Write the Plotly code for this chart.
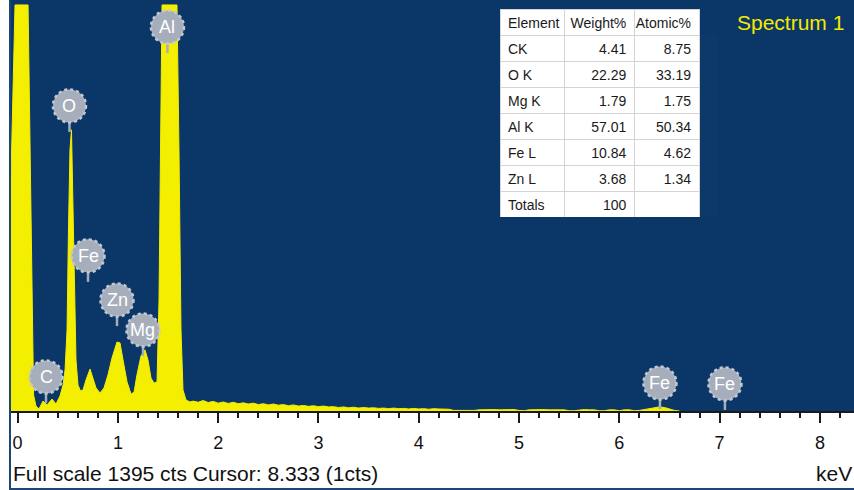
import plotly.graph_objects as go

# ---------------- data ----------------
# spectrum (energy keV, counts); peaks above full scale are shown clipped at 1395
energy_kev = [
    -0.08, -0.026, 0.104, 0.124, 0.144, 0.159, 0.183,
    0.213, 0.253, 0.293, 0.343, 0.383,
    0.423, 0.453, 0.473, 0.493, 0.507, 0.522, 0.537, 0.552, 0.567, 0.582, 0.602, 0.627,
    0.652, 0.682, 0.722, 0.752, 0.782, 0.822,
    0.861, 0.901, 0.941, 0.991, 1.021, 1.051, 1.091, 1.131, 1.161,
    1.190, 1.230, 1.270, 1.300, 1.330, 1.360,
    1.390, 1.410, 1.425, 1.440, 1.514, 1.589, 1.609, 1.629, 1.649, 1.679, 1.719,
    1.75, 1.80, 1.85, 1.90, 1.95, 2.00, 2.05, 2.10, 2.15, 2.20, 2.25, 2.30, 2.35, 2.40,
    2.45, 2.50, 2.55, 2.60, 2.65, 2.70, 2.75, 2.80, 2.85, 2.90, 2.95, 3.00, 3.05, 3.10,
    3.15, 3.20, 3.25, 3.30, 3.35, 3.40, 3.45, 3.50, 3.55, 3.60, 3.65, 3.70, 3.75, 3.80,
    3.85, 3.90, 3.95, 4.00, 4.05, 4.10, 4.15, 4.20, 4.25, 4.30, 4.35, 4.40, 4.45, 4.50,
    4.55, 4.60, 4.65, 4.70, 4.75, 4.80, 4.85, 4.90, 4.95, 5.00, 5.05, 5.10, 5.15, 5.20,
    5.25, 5.30, 5.35, 5.40, 5.45, 5.50, 5.55, 5.60, 5.65, 5.70, 5.75, 5.80, 5.85, 5.90,
    5.95, 6.00, 6.05, 6.10, 6.15, 6.20, 6.25, 6.30, 6.35, 6.40, 6.45, 6.50, 6.55, 6.60,
]
counts = [
    600, 1395, 1395, 897, 244, 55, 17,
    7, 34, 21, 41, 24,
    52, 89, 141, 278, 622, 897, 966, 725, 381, 175, 89, 69,
    72, 107, 144, 113, 79, 62,
    79, 124, 182, 237, 234, 175, 100, 58, 65,
    124, 189, 210, 175, 113, 96,
    100, 381, 897, 1395, 1395, 1395, 897, 278, 72, 38, 31,
    34, 30, 36, 29, 33, 27, 31, 26, 30, 25, 28, 24, 27, 22,
    25, 21, 24, 20, 22, 18, 21, 17, 19, 16, 18, 15, 17, 14,
    15, 12, 14, 11, 13, 10, 12, 10, 11, 9, 10, 8, 10, 8,
    9, 7, 9, 7, 8, 6, 8, 7, 7, 6, 2, 2, 1, 2,
    2, 4, 5, 4, 5, 4, 5, 4, 5, 2, 1, 4, 5, 4,
    5, 4, 5, 4, 4, 1, 1, 4, 5, 4, 4, 1, 1, 4,
    4, 1, 4, 4, 1, 2, 5, 9, 13, 14, 12, 6, 2, 0,
]

# element markers (label, energy keV, badge height in counts)
marker_labels = ["C", "O", "Fe", "Zn", "Mg", "Al", "Fe", "Fe"]
marker_kev = [0.283, 0.517, 0.702, 0.991, 1.250, 1.494, 6.405, 7.053]
marker_cts = [117, 1048, 533, 381, 278, 1319, 96, 93]

# quantification table
tbl_element = ["CK", "O K", "Mg K", "Al K", "Fe L", "Zn L", "Totals"]
tbl_weight = ["4.41", "22.29", "1.79", "57.01", "10.84", "3.68", "100"]
tbl_atomic = ["8.75", "33.19", "1.75", "50.34", "4.62", "1.34", ""]
tbl_header = ["Element", "Weight%", "Atomic%"]

x_ticks = [0, 1, 2, 3, 4, 5, 6, 7, 8]

# ---------------- styling ----------------
FONT = "Liberation Sans, Arial, Helvetica, sans-serif"
NAVY = "#0b3768"
YELLOW = "#f4ee00"
BADGE = "#a6aebb"
BADGE_EDGE = "#c3c9d3"

W, H = 854, 490
ML, MR, MT, MB = 10, 0, 0, 79
PW, PH = W - ML - MR, H - MT - MB


def px_x(p):
    return (p - ML) / PW


def px_y(p):
    return (H - MB - p) / PH


fig = go.Figure()

fig.add_trace(go.Scatter(
    x=energy_kev, y=counts, mode="lines",
    line=dict(color=YELLOW, width=1), fill="tozeroy", fillcolor=YELLOW,
    hoverinfo="skip", showlegend=False,
))

fig.add_trace(go.Table(
    domain=dict(x=[px_x(500), px_x(700)], y=[px_y(217), px_y(9)]),
    columnwidth=[65, 70, 65],
    header=dict(values=tbl_header, align=["left", "right", "right"],
                fill_color="white", line=dict(color="#d4d4d4", width=1),
                font=dict(family=FONT, size=14, color="#1a1a1a"), height=26),
    cells=dict(values=[tbl_element, tbl_weight, tbl_atomic],
               align=["left", "right", "right"],
               fill_color="white", line=dict(color="#d4d4d4", width=1),
               font=dict(family=FONT, size=14, color="#1a1a1a"), height=26),
))

shapes = []
annotations = []
# outer frame
shapes.append(dict(type="rect", xref="paper", yref="paper",
                   x0=px_x(10), x1=px_x(856), y0=px_y(489), y1=px_y(-2),
                   line=dict(color="#1c4677", width=2), fillcolor="rgba(0,0,0,0)",
                   layer="above"))

R = 16.5
for lab, ek, ct in zip(marker_labels, marker_kev, marker_cts):
    shapes.append(dict(type="line", xref="x", yref="y",
                       xsizemode="pixel", ysizemode="pixel",
                       xanchor=ek, yanchor=ct, x0=0, x1=0, y0=-14, y1=-26,
                       line=dict(color=BADGE, width=2.5), layer="above"))
    shapes.append(dict(type="circle", xref="x", yref="y",
                       xsizemode="pixel", ysizemode="pixel",
                       xanchor=ek, yanchor=ct, x0=-R, x1=R, y0=-R, y1=R,
                       fillcolor=BADGE, line=dict(color=BADGE_EDGE, width=2.5, dash="dot"),
                       layer="above"))
    annotations.append(dict(x=ek, y=ct, xref="x", yref="y", text=lab, showarrow=False,
                            xanchor="center", yanchor="middle",
                            font=dict(family=FONT, size=18, color="white")))

annotations.append(dict(x=px_x(846), y=px_y(22), xref="paper", yref="paper",
                        text="Spectrum 1", showarrow=False, xanchor="right", yanchor="middle",
                        font=dict(family=FONT, size=21, color="#f4ea00")))
annotations.append(dict(x=px_x(11), y=px_y(474), xref="paper", yref="paper",
                        text="Full scale 1395 cts Cursor: 8.333 (1cts)", showarrow=False,
                        xanchor="left", yanchor="middle",
                        font=dict(family=FONT, size=21, color="#111111")))
annotations.append(dict(x=px_x(854), y=px_y(474), xref="paper", yref="paper",
                        text="keV", showarrow=False, xanchor="right", yanchor="middle",
                        font=dict(family=FONT, size=21, color="#111111")))

fig.update_layout(
    width=W, height=H,
    margin=dict(l=ML, r=MR, t=MT, b=MB, pad=0),
    paper_bgcolor="white", plot_bgcolor=NAVY,
    shapes=shapes, annotations=annotations, showlegend=False,
    xaxis=dict(range=[-0.076, 8.34], tickvals=x_ticks, ticktext=[str(t) for t in x_ticks],
               showgrid=False, zeroline=False, showline=True, linecolor="#1a1a1a", linewidth=2,
               ticks="outside", ticklen=10, tickwidth=2, tickcolor="#1a1a1a",
               ticklabelstandoff=4,
               minor=dict(dtick=0.2, tick0=0, ticks="outside", ticklen=5, tickwidth=2,
                          tickcolor="#1a1a1a", showgrid=False),
               tickfont=dict(family=FONT, size=18, color="#111111"), fixedrange=True),
    yaxis=dict(range=[0, 1412], visible=False, showgrid=False, zeroline=False, fixedrange=True),
)

fig.write_html(
    "out.html",
    config={"displayModeBar": False},
    post_script="document.body.style.margin='0';document.body.style.overflow='hidden';",
)
